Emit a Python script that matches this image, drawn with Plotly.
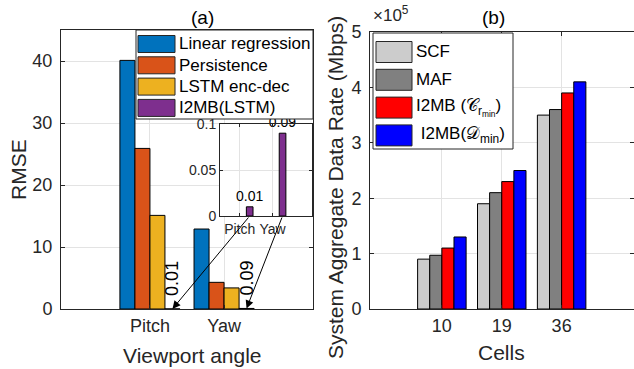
import plotly.graph_objects as go

# ---------------- data ----------------
viewport_angles = ["Pitch", "Yaw"]
methods_a = ["Linear regression", "Persistence", "LSTM enc-dec", "I2MB(LSTM)"]
rmse_linear = [40.1, 12.9]
rmse_persistence = [25.9, 4.3]
rmse_lstm = [15.1, 3.4]
rmse_i2mb = [0.01, 0.09]
colors_a = ["#0072BD", "#D95319", "#EDB120", "#7E2F8E"]
rmse_ticks = [0, 10, 20, 30, 40]
inset_ticks = [0, 0.05, 0.1]
inset_ticktext = ["0", "0.05", "0.1"]

cells = ["10", "19", "36"]
methods_b = ["SCF", "MAF", "I2MB (𝒞<sub>r<sub>min</sub></sub>)", " I2MB(𝒟<sub>min</sub>)"]
rate_scf = [0.9e5, 1.9e5, 3.5e5]
rate_maf = [0.97e5, 2.1e5, 3.6e5]
rate_i2mb_c = [1.1e5, 2.3e5, 3.9e5]
rate_i2mb_d = [1.3e5, 2.5e5, 4.1e5]
colors_b = ["#CCCCCC", "#808080", "#FF0000", "#0000FF"]
rate_ticks = [0, 1e5, 2e5, 3e5, 4e5, 5e5]
rate_ticktext = ["0", "1", "2", "3", "4", "5"]

# ---------------- layout constants ----------------
W, H = 634, 369
FONT = "Liberation Sans, Arial, sans-serif"
TXT = "#262626"
GRID = "#e3e3e3"
BARGAP = 0.19

def fx(px):
    return px / W

def fy(py):
    return 1 - py / H

dom_a_x, dom_a_y = [fx(61), fx(313)], [fy(309), fy(30)]
dom_i_x, dom_i_y = [fx(220), fx(312)], [fy(216), fy(124)]
dom_b_x, dom_b_y = [fx(370), fx(633.5)], [fy(309), fy(32)]

rng_a_x, rng_a_y = [-0.2, 3.2], [0, 45]
rng_i_x, rng_i_y = [0.4, 3.2], [0, 0.1]
rng_b_x, rng_b_y = [-0.2, 4.2], [0, 5e5]

def to_px_x(dom, rng, v):
    return (dom[0] + (v - rng[0]) / (rng[1] - rng[0]) * (dom[1] - dom[0])) * W

def to_px_y(dom, rng, v):
    return (1 - (dom[0] + (v - rng[0]) / (rng[1] - rng[0]) * (dom[1] - dom[0]))) * H

pos_a = list(range(1, len(viewport_angles) + 1))
pos_b = list(range(1, len(cells) + 1))
series_a = [rmse_linear, rmse_persistence, rmse_lstm, rmse_i2mb]
series_b = [rate_scf, rate_maf, rate_i2mb_c, rate_i2mb_d]

n_a = len(series_a)
bw = (1 - BARGAP) / n_a
purple_offset = -(1 - BARGAP) / 2 + (n_a - 1) * bw  # left edge of 4th bar relative to category
purple_center = purple_offset + bw / 2

fig = go.Figure()

# panel (a) main bars
for name, vals, col in zip(methods_a, series_a, colors_a):
    fig.add_trace(go.Bar(x=pos_a, y=vals, name=name, marker=dict(color=col, line=dict(color="#000000", width=1)),
                         xaxis="x", yaxis="y", showlegend=False))

# panel (b) bars
for name, vals, col in zip(methods_b, series_b, colors_b):
    fig.add_trace(go.Bar(x=pos_b, y=vals, name=name, marker=dict(color=col, line=dict(color="#000000", width=1)),
                         xaxis="x2", yaxis="y2", showlegend=False))

# inset bars (I2MB only)
fig.add_trace(go.Bar(x=pos_a, y=rmse_i2mb, width=bw, offset=purple_offset,
                     marker=dict(color=colors_a[3], line=dict(color="#000000", width=1)),
                     text=[f"{v:g}" for v in rmse_i2mb], textposition="outside", constraintext="none",
                     cliponaxis=False, textfont=dict(size=14, color="#000000", family=FONT),
                     xaxis="x3", yaxis="y3", showlegend=False))

axis_common = dict(showline=True, linecolor=TXT, linewidth=1, mirror="ticks", ticks="inside",
                   ticklen=4, tickcolor=TXT, showgrid=True, gridcolor=GRID, gridwidth=1,
                   zeroline=False, automargin=False, tickfont=dict(size=18, color=TXT, family=FONT))

fig.update_layout(
    width=W, height=H, margin=dict(l=0, r=0, t=0, b=0, pad=0, autoexpand=False),
    paper_bgcolor="white", plot_bgcolor="white",
    barmode="group", bargap=BARGAP, bargroupgap=0,
    font=dict(family=FONT, color=TXT),
    xaxis=dict(axis_common, domain=dom_a_x, range=rng_a_x, tickvals=pos_a, ticktext=viewport_angles,
               anchor="y"),
    yaxis=dict(axis_common, domain=dom_a_y, range=rng_a_y, tickvals=rmse_ticks, anchor="x",
               ticklabelstandoff=4),
    xaxis2=dict(axis_common, domain=dom_b_x, range=rng_b_x, tickvals=pos_b, ticktext=cells, anchor="y2"),
    yaxis2=dict(axis_common, domain=dom_b_y, range=rng_b_y, tickvals=rate_ticks, ticktext=rate_ticktext,
                anchor="x2", ticklabelstandoff=4),
    xaxis3=dict(axis_common, domain=dom_i_x, range=rng_i_x, tickvals=pos_a, ticktext=viewport_angles,
                anchor="y3", ticklen=3, tickfont=dict(size=14, color=TXT, family=FONT)),
    yaxis3=dict(axis_common, domain=dom_i_y, range=rng_i_y, tickvals=inset_ticks, ticktext=inset_ticktext,
                anchor="x3", ticklen=3, tickfont=dict(size=14, color=TXT, family=FONT)),
)

shapes = []
annotations = []

# white background for the inset (drawn in the inset subplot, above the main panel)
shapes.append(dict(type="rect", xref="x3", yref="y3", x0=rng_i_x[0], x1=rng_i_x[1], y0=rng_i_y[0],
                   y1=rng_i_y[1], fillcolor="white", line=dict(width=0), layer="below"))

def label(text, px, py, size, color=TXT, angle=0, xanchor="center"):
    return dict(text=text, x=fx(px), y=fy(py), xref="paper", yref="paper", showarrow=False,
                xanchor=xanchor, yanchor="middle", textangle=angle, font=dict(size=size, color=color))

# titles / axis labels
annotations += [
    label("(a)", 202, 17, 19, "#000000"),
    label("(b)", 493, 17, 19, "#000000"),
    label("×10<sup>5</sup>", 371, 14, 17, TXT, xanchor="left"),
    label("RMSE", 18, 170, 21, angle=-90),
    label("Viewport angle", 192, 355, 21),
    label("System Aggregate Data Rate (Mbps)", 335, 188, 21, angle=-90),
    label("Cells", 501, 352, 21),
]

# rotated value labels and arrows on the main panel
for p, v in zip(pos_a, rmse_i2mb):
    xc = p + purple_center
    annotations.append(dict(text=f"{v:g}", x=xc, y=v, xref="x", yref="y", textangle=-90, showarrow=False,
                            xanchor="center", yanchor="bottom", yshift=11, font=dict(size=18, color="#000000")))
    tip_x, tip_y = to_px_x(dom_a_x, rng_a_x, xc), to_px_y(dom_a_y, rng_a_y, v)
    tail_x, tail_y = to_px_x(dom_i_x, rng_i_x, xc), to_px_y(dom_i_y, rng_i_y, 0)
    annotations.append(dict(text="", x=xc, y=v, xref="x", yref="y", ax=tail_x - tip_x, ay=tail_y - tip_y,
                            axref="pixel", ayref="pixel", showarrow=True, arrowhead=2, arrowsize=1.6,
                            arrowwidth=1, arrowcolor="#000000", standoff=0))

# legend (a)
shapes.append(dict(type="rect", xref="paper", yref="paper", x0=fx(136), x1=fx(313),
                   y0=fy(119), y1=fy(30), fillcolor="white",
                   line=dict(color=TXT, width=1), layer="above"))
for i, (name, col) in enumerate(zip(methods_a, colors_a)):
    cy = 44 + i * 21.3
    shapes.append(dict(type="rect", xref="paper", yref="paper", x0=fx(138), x1=fx(175),
                       y0=fy(cy + 8.5), y1=fy(cy - 8.5), fillcolor=col, line=dict(color=TXT, width=1),
                       layer="above"))
    annotations.append(label(name, 177, cy, 17, "#000000", xanchor="left"))

# legend (b)
shapes.append(dict(type="rect", xref="paper", yref="paper", x0=fx(373), x1=fx(513),
                   y0=fy(149), y1=fy(33), fillcolor="white",
                   line=dict(color=TXT, width=1), layer="above"))
for i, (name, col) in enumerate(zip(methods_b, colors_b)):
    cy = 52 + i * 27.8
    shapes.append(dict(type="rect", xref="paper", yref="paper", x0=fx(376), x1=fx(412),
                       y0=fy(cy + 10.5), y1=fy(cy - 10.5), fillcolor=col, line=dict(color=TXT, width=1),
                       layer="above"))
    annotations.append(label(name, 414, cy, 17, "#000000", xanchor="left"))

fig.update_layout(shapes=shapes, annotations=annotations)
fig.write_html("out.html")
